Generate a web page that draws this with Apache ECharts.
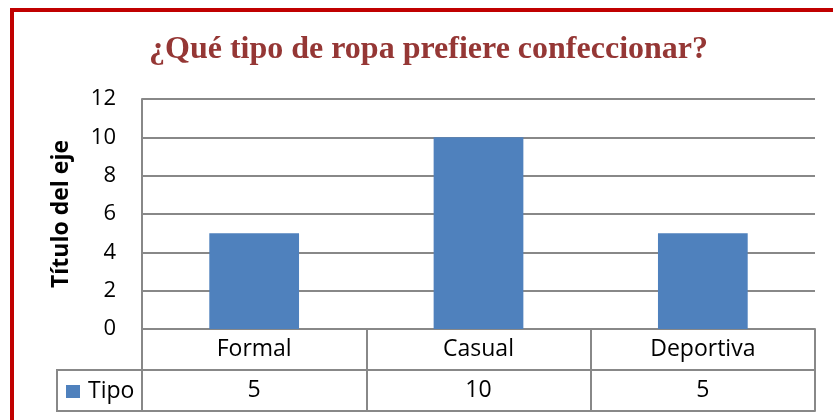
<!DOCTYPE html>
<html>
<head>
<meta charset="utf-8">
<script src="https://cdn.jsdelivr.net/npm/echarts@6/dist/echarts.min.js"></script>
<style>
html,body{margin:0;padding:0;background:#fff;}
#chart{width:833px;height:420px;}
</style>
</head>
<body>
<div id="chart"></div>
<script>
const titleText = '¿Qué tipo de ropa prefiere confeccionar?';
const categories = ['Formal', 'Casual', 'Deportiva'];
const seriesName = 'Tipo';
const values = [5, 10, 5];
const yTicks = { min: 0, max: 12, interval: 2 };
const yAxisTitle = 'Título del eje';

const gridColor = '#888888';
const font = '"Open Sans", "Noto Sans", sans-serif';

const chart = echarts.init(document.getElementById('chart'), null, { renderer: 'canvas' });

const option = {
  backgroundColor: '#ffffff',
  animation: false,
  title: {
    text: titleText,
    left: 149,
    top: 34,
    padding: 0,
    textStyle: {
      fontFamily: '"Liberation Serif", "Times New Roman", serif',
      fontWeight: 'bold',
      fontSize: 32,
      color: '#953735'
    }
  },
  legend: {
    data: [seriesName],
    left: 66,
    top: 380,
    padding: 0,
    icon: 'rect',
    itemWidth: 14,
    itemHeight: 13,
    itemGap: 7,
    textStyle: { fontFamily: font, fontSize: 23, color: '#000', padding: [0, 0, 0, 3] }
  },
  grid: { left: 142, right: 18, top: 99, bottom: 91, containLabel: false },
  xAxis: [
    {
      type: 'category',
      data: categories,
      position: 'bottom',
      axisLine: { show: true, lineStyle: { color: gridColor, width: 2 } },
      axisTick: { show: true, length: 82, interval: 0, lineStyle: { color: gridColor, width: 2 } },
      axisLabel: { interval: 0, margin: 9, fontFamily: font, fontSize: 23, color: '#000' }
    },
    {
      type: 'category',
      data: values.map(String),
      position: 'bottom',
      offset: 41,
      axisLine: { show: true, lineStyle: { color: gridColor, width: 2 } },
      axisTick: { show: false },
      axisLabel: { interval: 0, margin: 9, fontFamily: font, fontSize: 23, color: '#000' }
    },
    {
      type: 'category',
      data: categories,
      position: 'bottom',
      offset: 82,
      axisLine: { show: true, lineStyle: { color: gridColor, width: 2 } },
      axisTick: { show: false },
      axisLabel: { show: false }
    }
  ],
  yAxis: {
    type: 'value',
    min: yTicks.min,
    max: yTicks.max,
    interval: yTicks.interval,
    name: yAxisTitle,
    nameLocation: 'middle',
    nameRotate: 90,
    nameGap: 69,
    nameTextStyle: { fontFamily: font, fontWeight: 'bold', fontSize: 23, color: '#000' },
    axisLine: { show: true, lineStyle: { color: gridColor, width: 2 } },
    axisTick: { show: false },
    splitLine: { show: true, lineStyle: { color: gridColor, width: 2 } },
    axisLabel: { margin: 26, fontFamily: font, fontSize: 22, color: '#000' }
  },
  series: [
    {
      name: seriesName,
      type: 'bar',
      data: values,
      barWidth: '40%',
      itemStyle: { color: '#4F81BD' }
    }
  ]
};
chart.setOption(option);

// Legend cell borders of the data table and the outer red frame
function drawDecor() {
  const yTop = chart.convertToPixel({ yAxisIndex: 0 }, 0);
  const xLeft = chart.convertToPixel({ xAxisIndex: 0 }, categories[0]) - (chart.convertToPixel({ xAxisIndex: 0 }, categories[1]) - chart.convertToPixel({ xAxisIndex: 0 }, categories[0])) / 2;
  const row1 = yTop + 41, row2 = yTop + 82;
  const cellLeft = 57;
  chart.setOption({
    graphic: [
      { type: 'polyline', silent: true, shape: { points: [[xLeft, row1], [cellLeft, row1], [cellLeft, row2], [xLeft, row2]] }, style: { stroke: gridColor, lineWidth: 2, fill: null } },
      { type: 'rect', silent: true, shape: { x: 12, y: 10, width: 900, height: 500 }, style: { stroke: '#C00000', lineWidth: 4, fill: null } }
    ]
  });
}
drawDecor();
</script>
</body>
</html>
